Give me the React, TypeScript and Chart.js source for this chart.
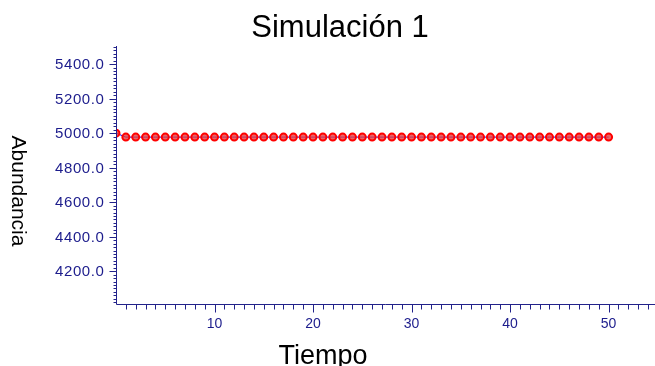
import React, { useEffect, useRef } from "react";
import { Chart, registerables } from "chart.js";

Chart.register(...registerables);

const titleText = "Simulación 1";
const xTitle = "Tiempo";
const yTitle = "Abundancia";

const tiempo: number[] = [
  0, 1, 2, 3, 4, 5, 6, 7, 8, 9, 10, 11, 12, 13, 14, 15, 16, 17, 18, 19, 20,
  21, 22, 23, 24, 25, 26, 27, 28, 29, 30, 31, 32, 33, 34, 35, 36, 37, 38, 39,
  40, 41, 42, 43, 44, 45, 46, 47, 48, 49, 50,
];
const abundancia: number[] = [
  5000, 4977, 4977, 4977, 4977, 4977, 4977, 4977, 4977, 4977, 4977, 4977,
  4977, 4977, 4977, 4977, 4977, 4977, 4977, 4977, 4977, 4977, 4977, 4977,
  4977, 4977, 4977, 4977, 4977, 4977, 4977, 4977, 4977, 4977, 4977, 4977,
  4977, 4977, 4977, 4977, 4977, 4977, 4977, 4977, 4977, 4977, 4977, 4977,
  4977, 4977, 4977,
];
const xMajorTicks: number[] = [10, 20, 30, 40, 50];
const yMajorTicks: number[] = [4200, 4400, 4600, 4800, 5000, 5200, 5400];

const X_MIN = 0;
const X_MAX = 54.1;
const Y_MIN = 4010;
const Y_MAX = 5505;

const NAVY = "#1c1c8c";
const AXIS = "#22228a";
const FONT = "'Liberation Sans', Arial, sans-serif";

const axesPlugin = {
  id: "customAxes",
  afterDraw(chart: any) {
    const ctx = chart.ctx as CanvasRenderingContext2D;
    const xs = chart.scales.x;
    const ys = chart.scales.y;
    const area = chart.chartArea;
    const x0 = Math.round(area.left) + 0.5;
    const yb = Math.round(area.bottom) + 0.5;
    ctx.save();
    ctx.strokeStyle = AXIS;
    ctx.lineWidth = 1;
    // axis lines
    ctx.beginPath();
    ctx.moveTo(x0, area.top);
    ctx.lineTo(x0, yb);
    ctx.lineTo(chart.width, yb);
    ctx.stroke();
    // x ticks
    ctx.beginPath();
    for (let v = 1; v <= 54; v++) {
      const px = Math.round(xs.getPixelForValue(v)) + 0.5;
      const major = v % 10 === 0;
      ctx.moveTo(px, yb);
      ctx.lineTo(px, yb + (major ? 8 : 5));
    }
    ctx.stroke();
    // y ticks
    ctx.beginPath();
    for (let v = 4020; v <= Y_MAX; v += 20) {
      const py = Math.round(ys.getPixelForValue(v)) + 0.5;
      const major = v % 200 === 0;
      ctx.moveTo(x0, py);
      ctx.lineTo(x0 - (major ? 7 : 3), py);
    }
    ctx.stroke();
    // labels
    ctx.fillStyle = NAVY;
    ctx.font = "14px " + FONT;
    ctx.textAlign = "center";
    ctx.textBaseline = "middle";
    xMajorTicks.forEach((v) => {
      ctx.fillText(String(v), xs.getPixelForValue(v), yb + 20);
    });
    ctx.font = "15px " + FONT;
    (ctx as any).letterSpacing = "0.6px";
    ctx.textAlign = "right";
    yMajorTicks.forEach((v) => {
      ctx.fillText(v.toFixed(1), x0 - 12, ys.getPixelForValue(v) + 1);
    });
    (ctx as any).letterSpacing = "0px";
    // titles
    ctx.fillStyle = "#000";
    ctx.textAlign = "center";
    ctx.textBaseline = "alphabetic";
    ctx.font = "31px " + FONT;
    ctx.fillText(titleText, 340, 37);
    ctx.font = "27px " + FONT;
    ctx.fillText(xTitle, 323, 364);
    ctx.save();
    ctx.translate(18, 191);
    ctx.rotate(Math.PI / 2);
    ctx.textBaseline = "middle";
    ctx.font = "21px " + FONT;
    ctx.fillText(yTitle, 0, 0);
    ctx.restore();
    ctx.restore();
  },
};

export default function App() {
  const canvasRef = useRef<HTMLCanvasElement | null>(null);
  useEffect(() => {
    document.body.style.margin = "0";
    const canvas = canvasRef.current;
    if (!canvas) return;
    const chart = new Chart(canvas, {
      type: "line",
      data: {
        datasets: [
          {
            label: yTitle,
            data: tiempo.map((t, i) => ({ x: t, y: abundancia[i] })),
            borderColor: "#0000ff",
            borderWidth: 1,
            pointRadius: 3.5,
            pointBorderColor: "#ff0000",
            pointBackgroundColor: "rgba(230,60,60,0.8)",
            pointBorderWidth: 2,
            tension: 0,
          },
        ],
      },
      options: {
        responsive: false,
        animation: false,
        devicePixelRatio: 1,
        layout: { padding: { left: 116, top: 46, right: 0, bottom: 62 } },
        plugins: {
          legend: { display: false },
          tooltip: { enabled: false },
          title: { display: false },
        },
        scales: {
          x: { type: "linear", min: X_MIN, max: X_MAX, display: false },
          y: { type: "linear", min: Y_MIN, max: Y_MAX, display: false },
        },
      },
      plugins: [axesPlugin],
    });
    return () => chart.destroy();
  }, []);
  return (
    <div style={{ position: "absolute", left: 0, top: 0, width: 655, height: 366, background: "#fff" }}>
      <canvas ref={canvasRef} width={655} height={366} style={{ display: "block", width: 655, height: 366 }} />
    </div>
  );
}
